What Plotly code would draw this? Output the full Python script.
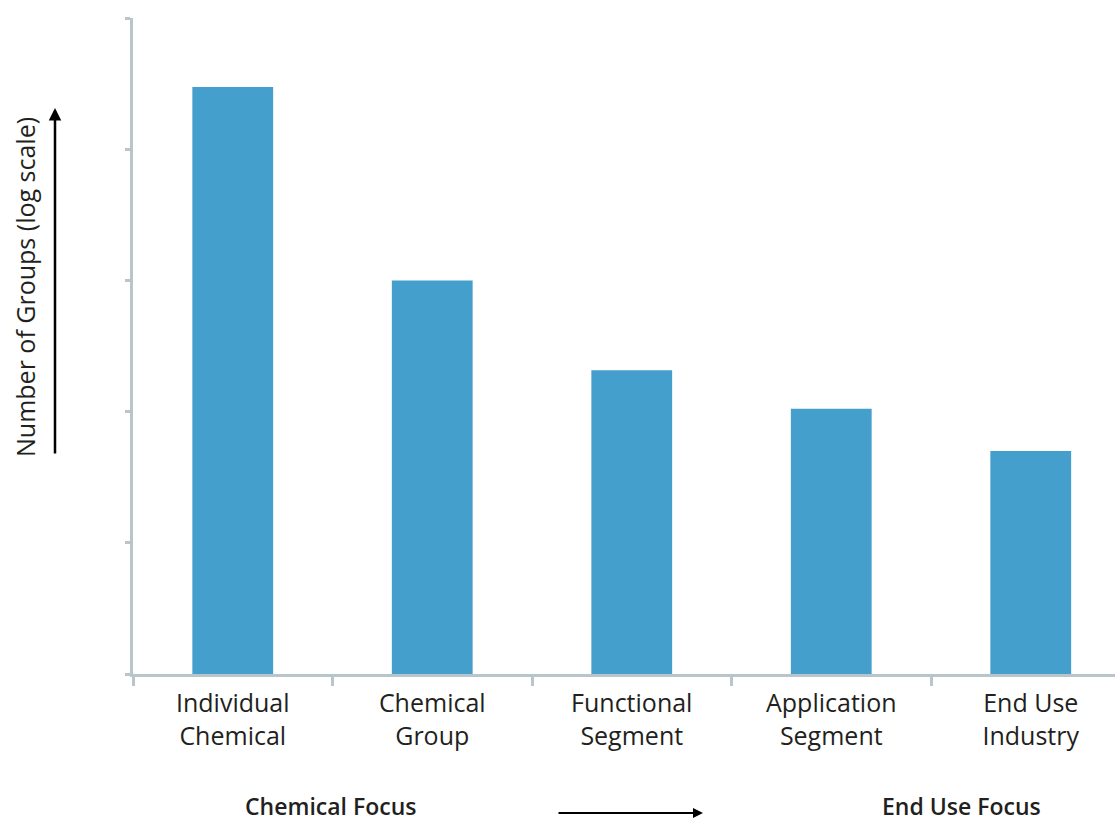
import plotly.graph_objects as go

categories = ["Individual<br>Chemical", "Chemical<br>Group", "Functional<br>Segment",
              "Application<br>Segment", "End Use<br>Industry"]
values = [29800, 1000, 207, 105, 50]
y_tickvals = [1, 10, 100, 1000, 10000, 100000]

W, H = 1115, 822
L, R, T, B = 133, 0, 18, 148
PW, PH = W - L - R, H - T - B

def px(x):
    return (x - L) / PW

def py(y):
    return (H - B - y) / PH

AXIS = "#B8C5CB"
TXT = "#231F20"
FONT = "Open Sans"

fig = go.Figure()
fig.add_trace(go.Bar(
    x=categories, y=values, width=0.405,
    marker=dict(color="#449FCD", line=dict(width=0)),
))

fig.update_layout(
    width=W, height=H,
    margin=dict(l=L, r=R, t=T, b=B),
    paper_bgcolor="white", plot_bgcolor="white",
    showlegend=False,
    font=dict(family=FONT, color=TXT),
)
fig.update_xaxes(
    type="category",
    range=[-0.5, -0.5 + PW / 199.5],
    showline=True, linecolor=AXIS, linewidth=3,
    ticks="outside", tickson="boundaries", ticklen=9, tickwidth=3, tickcolor=AXIS,
    ticklabelstandoff=5,
    tickfont=dict(size=25, color=TXT, family=FONT),
    showgrid=False, zeroline=False,
)
fig.update_yaxes(
    type="log", range=[0, 5],
    tickvals=y_tickvals, showticklabels=False,
    showline=True, linecolor=AXIS, linewidth=3,
    ticks="outside", ticklen=5, tickwidth=3, tickcolor=AXIS,
    showgrid=False, zeroline=False,
)

# Y-axis title
fig.add_annotation(
    text="Number of Groups (log scale)", xref="paper", yref="paper",
    x=px(25), y=py(287), xanchor="center", yanchor="middle",
    textangle=-90, showarrow=False,
    font=dict(size=25, color=TXT, family=FONT),
)
# vertical arrow
fig.add_annotation(
    text="", xref="paper", yref="paper", x=px(55), y=py(108),
    ax=0, ay=347, axref="pixel", ayref="pixel",
    showarrow=True, arrowhead=2, arrowsize=1, arrowwidth=2.5, arrowcolor="black",
)
# horizontal arrow
fig.add_annotation(
    text="", xref="paper", yref="paper", x=px(703), y=py(813),
    ax=-146, ay=0, axref="pixel", ayref="pixel",
    showarrow=True, arrowhead=2, arrowsize=1, arrowwidth=2, arrowcolor="black",
)
for label, cx in [("Chemical Focus", 330), ("End Use Focus", 961)]:
    fig.add_annotation(
        text=label, xref="paper", yref="paper", x=px(cx), y=py(806),
        xanchor="center", yanchor="middle", borderpad=0,
        showarrow=False, font=dict(size=23, color=TXT, family=FONT, weight=600),
    )

fig.write_html("out.html", post_script="document.body.style.margin='0';",
               config={"displayModeBar": False})
